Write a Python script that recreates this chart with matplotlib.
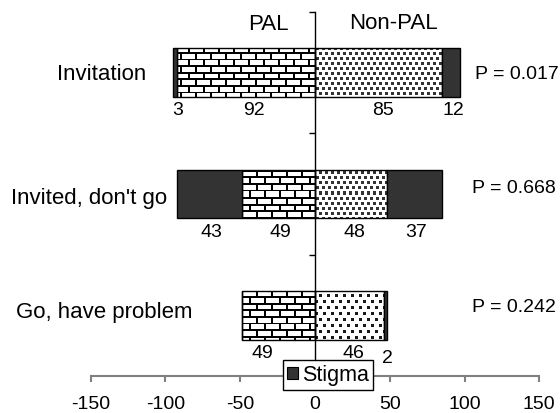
import numpy as np
import matplotlib
matplotlib.use('Agg')
import matplotlib.pyplot as plt
from matplotlib.patches import Patch

plt.rcParams['font.family'] = ['Liberation Sans', 'DejaVu Sans']

# ---------------- data ----------------
categories = ['Invitation', "Invited, don't go", 'Go, have problem']
pal_main = [92, 49, 49]
pal_stigma = [3, 43, 0]
nonpal_main = [85, 48, 46]
nonpal_stigma = [12, 37, 2]
p_values = ['P = 0.017', 'P = 0.668', 'P = 0.242']
xticks = [-150, -100, -50, 0, 50, 100, 150]
group_titles = ['PAL', 'Non-PAL']
legend_label = 'Stigma'

# ---------------- layout ----------------
W, H = 560, 414
fig = plt.figure(figsize=(W / 100, H / 100), dpi=100)
ax_l, ax_r, ax_t, ax_b = 90.7, 539.3, 12.7, 377.0
ax = fig.add_axes([ax_l / W, 1 - ax_b / H, (ax_r - ax_l) / W, (ax_b - ax_t) / H])
XLIM = (-150, 150)
YLIM = (2.5, -0.5)
STIGMA = '#333333'
BAR_H = 0.4

pw = int(round(ax_r - ax_l))
ph = int(round(ax_b - ax_t))
yy, xx = np.mgrid[0:ph, 0:pw]


def brick_texture(px=15.0, py=6.6, mortar=1.7):
    row = np.floor(yy / py).astype(int)
    ymod = yy - row * py
    xoff = (row % 2) * px / 2
    xmod = (xx + xoff) % px
    dark = (ymod < mortar) | (xmod < mortar)
    img = np.ones((ph, pw, 3))
    img[dark] = 0.0
    return img


def dot_texture(px, py, sw, sh, shade):
    row = (yy // py).astype(int)
    xoff = (row % 2) * (px // 2)
    dark = ((yy % py) < sh) & (((xx + xoff) % px) < sw)
    img = np.ones((ph, pw, 3))
    img[dark] = shade
    return img


brick = brick_texture()
dots_dense = dot_texture(6, 5, 3, 3, 0.2)
dots_sparse = dot_texture(8, 6, 3, 3, 0.1)
dot_tex = [dots_dense, dots_dense, dots_sparse]

y = np.arange(len(categories))
ext = (XLIM[0], XLIM[1], YLIM[0], YLIM[1])

b_pal = ax.barh(y, [-v for v in pal_main], height=BAR_H, left=0,
                facecolor='none', edgecolor='black', lw=1, zorder=3)
b_pal_s = ax.barh(y, [-v for v in pal_stigma], height=BAR_H,
                  left=[-v for v in pal_main], facecolor=STIGMA,
                  edgecolor='black', lw=1, zorder=3)
b_non = ax.barh(y, nonpal_main, height=BAR_H, left=0,
                facecolor='none', edgecolor='black', lw=1, zorder=3)
b_non_s = ax.barh(y, nonpal_stigma, height=BAR_H, left=nonpal_main,
                  facecolor=STIGMA, edgecolor='black', lw=1, zorder=3)

for i, bar in enumerate(b_pal):
    im = ax.imshow(brick, extent=ext, origin='upper', aspect='auto',
                   interpolation='nearest', zorder=2)
    im.set_clip_path(bar)
for i, bar in enumerate(b_non):
    im = ax.imshow(dot_tex[i], extent=ext, origin='upper', aspect='auto',
                   interpolation='nearest', zorder=2)
    im.set_clip_path(bar)

ax.set_xlim(*XLIM)
ax.set_ylim(*YLIM)

# axes styling
for s in ['top', 'right']:
    ax.spines[s].set_visible(False)
ax.spines['left'].set_position(('data', 0))
ax.spines['left'].set_color('black')
ax.spines['left'].set_linewidth(1)
ax.spines['left'].set_zorder(4)
ax.spines['bottom'].set_color('#808080')
ax.spines['bottom'].set_linewidth(1.5)

ax.set_xticks(xticks)
ax.set_xticklabels([str(t) for t in xticks])
ax.tick_params(axis='x', direction='out', length=4, width=1.5, color='#808080',
               labelsize=14, labelcolor='black', pad=10)
ax.set_yticks([-0.5, 0.5, 1.5, 2.5])
ax.set_yticklabels([])
ax.tick_params(axis='y', direction='out', length=4, width=1, color='black')

px_per_x = (ax_r - ax_l) / (XLIM[1] - XLIM[0])
px_per_y = (ax_b - ax_t) / (YLIM[0] - YLIM[1])

# category labels (right edges, data x)
cat_x = [-113, -99, -81.6]
cat_dy = [0.005, 0.026, -0.03]
for i, c in enumerate(categories):
    ax.text(cat_x[i], y[i] + cat_dy[i], c, ha='right', va='center', fontsize=16)

# value labels below bars
lab_dy = BAR_H / 2 + 13 / px_per_y
pal_main_dx = [8, 2, -16]
for i in range(len(categories)):
    yl = y[i] + lab_dy
    ax.text(-pal_main[i] / 2 + pal_main_dx[i] / px_per_x, yl, str(pal_main[i]),
            ha='center', va='center', fontsize=14)
    if pal_stigma[i] > 0:
        ax.text(-(pal_main[i] + pal_stigma[i] / 2) + 2 / px_per_x, yl, str(pal_stigma[i]),
                ha='center', va='center', fontsize=14)
    ax.text(nonpal_main[i] / 2 + 4 / px_per_x, yl, str(nonpal_main[i]),
            ha='center', va='center', fontsize=14)
    extra = 5 / px_per_y if nonpal_stigma[i] < 5 else 0
    ax.text(nonpal_main[i] + nonpal_stigma[i] / 2 + 2 / px_per_x, yl + extra,
            str(nonpal_stigma[i]), ha='center', va='center', fontsize=14)

# P values
p_x = [107, 104.8, 104.8]
p_y = [0.013, 0.944, 1.924]
for i, p in enumerate(p_values):
    ax.text(p_x[i], p_y[i], p, ha='left', va='center', fontsize=14)

# group titles
ax.text(-31.4, -0.399, group_titles[0], ha='center', va='center', fontsize=16)
ax.text(52.2, -0.415, group_titles[1], ha='center', va='center', fontsize=16)

# legend
leg = fig.legend(handles=[Patch(facecolor=STIGMA, edgecolor='black', lw=0.8)],
                 labels=[legend_label], loc='center',
                 bbox_to_anchor=(328 / W, 1 - 376 / H), bbox_transform=fig.transFigure,
                 fontsize=15.5, handlelength=0.5, handleheight=0.5, handletextpad=0.2,
                 borderpad=0.2, borderaxespad=0, fancybox=False, framealpha=1,
                 edgecolor='black')
leg.get_frame().set_linewidth(1)

fig.savefig('out.png', dpi=100)
